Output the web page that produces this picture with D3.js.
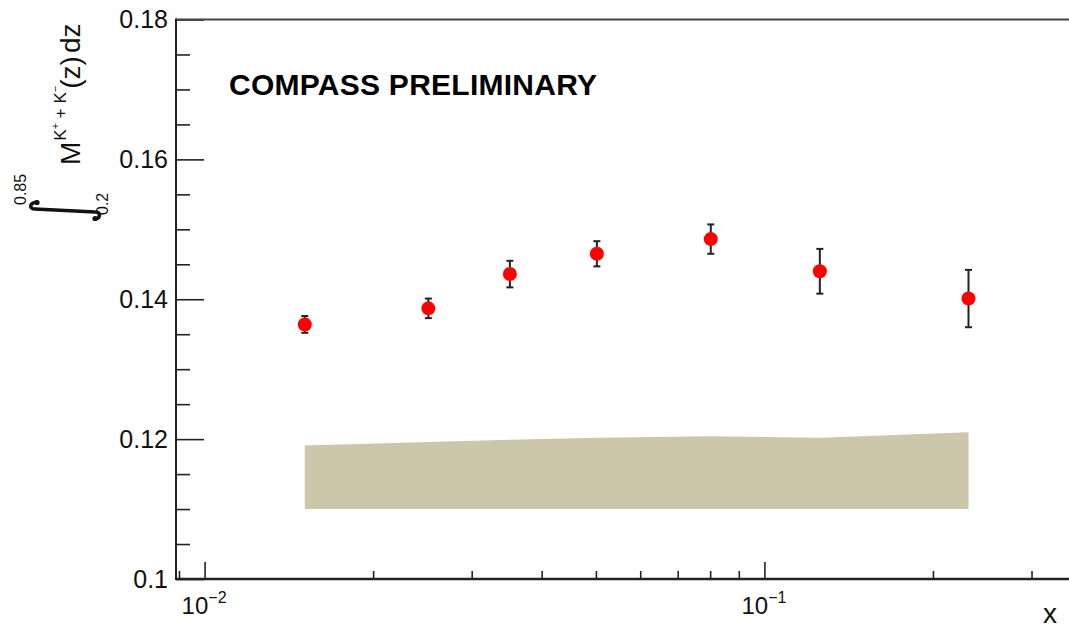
<!DOCTYPE html>
<html>
<head>
<meta charset="utf-8">
<script src="https://cdn.jsdelivr.net/npm/d3@7"></script>
<style>
  html, body { margin: 0; padding: 0; background: #fff; }
  svg { display: block; font-family: "Liberation Sans", Arial, Helvetica, sans-serif; }
</style>
</head>
<body>
<svg id="chart" width="1069" height="628"></svg>
<script>
// Bin centres in Bjorken x
const xBins = [0.0151, 0.0251, 0.0351, 0.0502, 0.0802, 0.1256, 0.2315];
// Integrated kaon multiplicity and its statistical error
const multiplicity = [0.1364, 0.1387, 0.1436, 0.1465, 0.1486, 0.1440, 0.1401];
const statError    = [0.0012, 0.0014, 0.0019, 0.0018, 0.0021, 0.0032, 0.0041];
// Systematic uncertainty band (lower / upper edge)
const sysLow  = [0.1100, 0.1100, 0.1100, 0.1100, 0.1100, 0.1100, 0.1100];
const sysHigh = [0.1191, 0.1196, 0.1199, 0.1202, 0.1204, 0.1202, 0.1210];
// Axis ticks
const yMajorTicks = [0.10, 0.12, 0.14, 0.16, 0.18];
const yMinorTicks = [0.105, 0.11, 0.115, 0.125, 0.13, 0.135, 0.145, 0.15, 0.155, 0.165, 0.17, 0.175];
const xMajorTicks = [0.01, 0.1];
const xMajorExponents = ["−2", "−1"];
const xMinorTicks = [0.009, 0.02, 0.03, 0.04, 0.05, 0.06, 0.07, 0.08, 0.09, 0.2, 0.3];

const svg = d3.select("#chart");
const W = 1069, H = 628;
const frame = { left: 176, top: 19.5, right: 1069, bottom: 579 };

const x = d3.scaleLog().domain([0.00889, 0.35]).range([frame.left, frame.right]);
const y = d3.scaleLinear().domain([0.10, 0.18]).range([frame.bottom, frame.top]);

svg.append("rect").attr("width", W).attr("height", H).attr("fill", "#fff");

// systematic band
const band = d3.area()
  .x((d, i) => x(xBins[i]))
  .y0((d, i) => y(sysLow[i]))
  .y1((d, i) => y(sysHigh[i]));
svg.append("path").datum(xBins).attr("d", band).attr("fill", "#ccc6aa");

// error bars
const eb = svg.append("g").attr("stroke", "#222").attr("stroke-width", 2);
xBins.forEach((xv, i) => {
  const cx = x(xv), y1 = y(multiplicity[i] + statError[i]), y2 = y(multiplicity[i] - statError[i]);
  eb.append("line").attr("x1", cx).attr("x2", cx).attr("y1", y1).attr("y2", y2);
  eb.append("line").attr("x1", cx - 3.5).attr("x2", cx + 3.5).attr("y1", y1).attr("y2", y1);
  eb.append("line").attr("x1", cx - 3.5).attr("x2", cx + 3.5).attr("y1", y2).attr("y2", y2);
});

// markers
svg.append("g").selectAll("circle").data(xBins).join("circle")
  .attr("cx", d => x(d))
  .attr("cy", (d, i) => y(multiplicity[i]))
  .attr("r", 7)
  .attr("fill", "#ff0000");

// y axis ticks (inside the frame)
const yMajor = svg.append("g").attr("transform", `translate(${frame.left},0)`)
  .call(d3.axisLeft(y).tickValues(yMajorTicks).tickSize(-28).tickPadding(8)
        .tickFormat(d => d === 0.1 ? "0.1" : d3.format(".2f")(d)));
const yMinor = svg.append("g").attr("transform", `translate(${frame.left},0)`)
  .call(d3.axisLeft(y).tickValues(yMinorTicks).tickSize(-14).tickFormat(""));
[yMajor, yMinor].forEach(g => {
  g.select(".domain").remove();
  g.selectAll(".tick line").attr("stroke", "#222").attr("stroke-width", 1.6);
});
yMajor.selectAll(".tick text").attr("font-size", 25).attr("fill", "#111")
  .attr("font-family", "'Liberation Sans', Arial, sans-serif");

// x axis ticks (inside the frame)
const xMajor = svg.append("g").attr("transform", `translate(0,${frame.bottom})`)
  .call(d3.axisBottom(x).tickValues(xMajorTicks).tickSize(-17).tickFormat(""));
const xMinor = svg.append("g").attr("transform", `translate(0,${frame.bottom})`)
  .call(d3.axisBottom(x).tickValues(xMinorTicks).tickSize(-8).tickFormat(""));
[xMajor, xMinor].forEach(g => {
  g.select(".domain").remove();
  g.selectAll(".tick line").attr("stroke", "#222").attr("stroke-width", 1.6);
});

// x tick labels: powers of ten
xMajorTicks.forEach((v, i) => {
  const t = svg.append("text").attr("x", x(v) - 23).attr("y", 614)
    .attr("font-size", 24).attr("fill", "#111");
  t.append("tspan").text("10");
  t.append("tspan").attr("font-size", 16).attr("dy", -11).text(xMajorExponents[i]);
});

// frame
svg.append("line").attr("x1", frame.left).attr("x2", frame.right)
  .attr("y1", frame.top).attr("y2", frame.top).attr("stroke", "#444").attr("stroke-width", 2);
svg.append("line").attr("x1", frame.left).attr("x2", frame.left)
  .attr("y1", frame.top - 1).attr("y2", frame.bottom + 1).attr("stroke", "#222").attr("stroke-width", 2);
svg.append("line").attr("x1", frame.left).attr("x2", frame.right)
  .attr("y1", frame.bottom).attr("y2", frame.bottom).attr("stroke", "#222").attr("stroke-width", 2.5);

// x axis title
svg.append("text").attr("x", 1057).attr("y", 623).attr("text-anchor", "end")
  .attr("font-size", 28).attr("fill", "#111").text("x");

// preliminary tag
svg.append("text").attr("x", 229).attr("y", 95).attr("font-size", 30)
  .attr("font-weight", "bold").attr("fill", "#000").attr("textLength", 368)
  .text("COMPASS PRELIMINARY");

// y axis title: integral of the multiplicity over z
const yt = svg.append("g").attr("transform", "translate(80,222) rotate(-90)").attr("fill", "#111");
yt.append("path")
  .attr("d", "M20,-43 C19,-51 13,-51 13,-45 L10,15 C10,21 4,21 3,15")
  .attr("fill", "none").attr("stroke", "#111").attr("stroke-width", 3.5).attr("stroke-linecap", "round");
yt.append("circle").attr("cx", 19.5).attr("cy", -43).attr("r", 2.6);
yt.append("circle").attr("cx", 3.5).attr("cy", 15).attr("r", 2.6);
yt.append("text").attr("x", 17).attr("y", -54).attr("font-size", 16).text("0.85");
yt.append("text").attr("x", 7).attr("y", 28).attr("font-size", 16).text("0.2");
const ml = yt.append("text").attr("x", 57).attr("y", 0).attr("font-size", 28);
ml.append("tspan").text("M");
ml.append("tspan").attr("font-size", 17).attr("dy", -14).attr("dx", 1).text("K");
ml.append("tspan").attr("font-size", 11).attr("dy", -7).text("+");
ml.append("tspan").attr("font-size", 17).attr("dy", 7).text(" + K");
ml.append("tspan").attr("font-size", 11).attr("dy", -7).text("−");
ml.append("tspan").attr("font-size", 28).attr("dy", 21).attr("dx", -3).text("(z)");
ml.append("tspan").attr("dx", 3).text("dz");
</script>
</body>
</html>
